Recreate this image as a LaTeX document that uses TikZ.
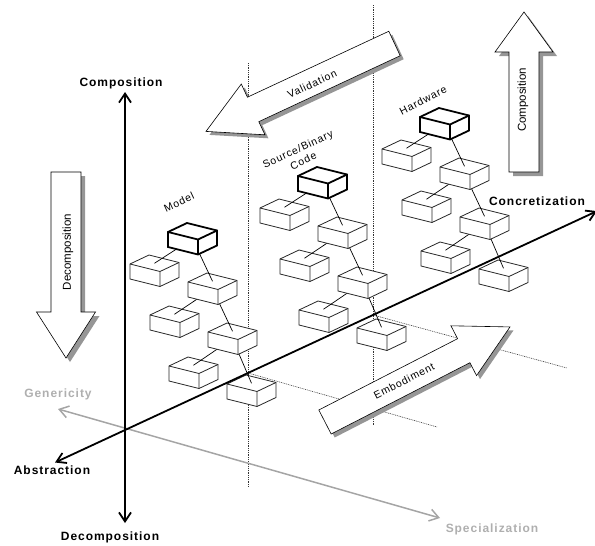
\documentclass[tikz,border=0pt]{standalone}
\usepackage{fontspec}
\setmainfont{Liberation Sans}
\newfontfamily\labfont[LetterSpace=8]{Liberation Sans}
\usetikzlibrary{arrows.meta,calc}
\definecolor{axgray}{RGB}{165,165,165}
\definecolor{txtgray}{RGB}{175,175,175}
\definecolor{shadowgray}{RGB}{150,150,150}
\begin{document}
\begin{tikzpicture}[x=1pt,y=-1pt,
  axisline/.style={line width=1.8pt, black},
  grayaxis/.style={line width=1.5pt, axgray},
  dotline/.style={line width=0.6pt, black!80, dash pattern=on 0.9pt off 0.9pt},
  conn/.style={line width=0.7pt, black},
  normcube/.style={line width=0.8pt, draw=black!85},
  boldcube/.style={line width=1.8pt, draw=black},
  axlabel/.style={font=\labfont\bfseries\fontsize{12}{14}\selectfont, inner sep=0pt},
  smalllabel/.style={font=\labfont\fontsize{10.5}{13}\selectfont, inner sep=0pt, align=center},
  arrowtext/.style={font=\fontsize{11.5}{13}\selectfont, inner sep=0pt},
  cube/.pic={
    \filldraw[fill=white, pic actions] (0,0) -- (19,-9) -- (49,-1.5) -- (49,13.5) -- (30,22.5) -- (0,15) -- cycle;
    \draw[pic actions] (0,0) -- (30,7.5) -- (49,-1.5) (30,7.5) -- (30,22.5);
  },
  barrow/.pic={
    \path[pic actions] (0,-13.5) -- (156,-13.5) -- (156,-28) -- (208,0) -- (156,28) -- (156,13.5) -- (0,13.5) -- cycle;
  }
]
\useasboundingbox (0,0) rectangle (595,546);
\clip (0,0) rectangle (595,546);

% ---- coordinates of axes and guide lines
\coordinate (top) at (125,92);
\coordinate (bot) at (125,523);
\coordinate (abs) at (55,462.5);
\coordinate (con) at (597,211.1);
\coordinate (gen) at (58,409);
\coordinate (spe) at (440,518);
\coordinate (d1a) at (248,63);
\coordinate (d1b) at (248,487);
\coordinate (d2a) at (373,5);
\coordinate (d2b) at (373,425);
\coordinate (e1a) at (248,373);
\coordinate (e1b) at (437,427);
\coordinate (e2a) at (373,315);
\coordinate (e2b) at (567,368);

% ---- dotted guide lines
\draw[dotline] (d1a) -- (d1b);
\draw[dotline] (d2a) -- (d2b);
\draw[dotline] (e1a) -- (e1b);
\draw[dotline] (e2a) -- (e2b);

% ---- grey axis
\draw[grayaxis, {Straight Barb[length=9pt,width=12pt]}-{Straight Barb[length=9pt,width=12pt]}] (gen) -- (spe);

% ---- box clusters
\foreach \p/\bx/\by in {m/168/232, s/298/176, h/420/117} {
  \coordinate (\p0) at (\bx,\by);
  \foreach \i/\dx/\dy in {1/-38/32, 2/20/50, 3/-18/83, 4/40/100, 5/1/134, 6/59/152} {
    \coordinate (\p\i) at ($(\p0)+(\dx,\dy)$);
  }
  \foreach \i in {0,...,6} {
    \coordinate (\p\i-t) at ($(\p\i)+(24.5,-0.75)$);
    \coordinate (\p\i-c) at ($(\p\i)+(24.5,6.75)$);
  }
}
\foreach \p in {m,s,h} {
  \pic[normcube] at (\p5) {cube};
  \pic[normcube] at (\p6) {cube};
  \draw[conn] (\p4-c) -- (\p5-t) (\p4-c) -- (\p6-t);
  \pic[normcube] at (\p4) {cube};
  \pic[normcube] at (\p3) {cube};
  \draw[conn] (\p2-c) -- (\p3-t) (\p2-c) -- (\p4-t);
  \pic[normcube] at (\p2) {cube};
  \pic[normcube] at (\p1) {cube};
  \draw[conn] (\p0-c) -- (\p1-t) (\p0-c) -- (\p2-t);
  \pic[boldcube] at (\p0) {cube};
}

% ---- black axes
\draw[axisline, {Straight Barb[length=9pt,width=12pt]}-{Straight Barb[length=9pt,width=12pt]}] (bot) -- (top);
\draw[axisline, {Straight Barb[length=9pt,width=11pt]}-{Straight Barb[length=9pt,width=11pt]}] (abs) -- (con);

% ---- block arrows
% Validation (points lower left)
\pic[rotate=205, fill=shadowgray] at (398,47) {barrow};
\pic[rotate=205, fill=white, draw=black, line width=0.6pt] at (394.5,43.5) {barrow};
% Embodiment (points upper right)
\pic[rotate=27.2, fill=shadowgray] at (328.5,425.5) {barrow};
\pic[rotate=27.2, fill=white, draw=black, line width=0.6pt] at (325,422) {barrow};
% Decomposition (points down)
\fill[shadowgray, shift={(4,4)}] (51,172) -- (81,172) -- (81,312) -- (95.5,312) -- (66,358) -- (36.5,312) -- (51,312) -- cycle;
\filldraw[fill=white, draw=black, line width=0.6pt] (51,172) -- (81,172) -- (81,312) -- (95.5,312) -- (66,358) -- (36.5,312) -- (51,312) -- cycle;
% Composition (points up)
\fill[shadowgray, shift={(4,4)}] (509,172) -- (539,172) -- (539,52) -- (553,52) -- (524,12) -- (495,52) -- (509,52) -- cycle;
\filldraw[fill=white, draw=black, line width=0.6pt] (509,172) -- (539,172) -- (539,52) -- (553,52) -- (524,12) -- (495,52) -- (509,52) -- cycle;

% ---- labels
\node[axlabel] (lcomp) at (121,83) {Composition};
\node[axlabel] (ldecomp) at (110,537) {Decomposition};
\node[axlabel] (labs) at (52,470) {Abstraction};
\node[axlabel] (lcon) at (537,201) {Concretization};
\node[axlabel, text=txtgray] (lgen) at (58,394) {Genericity};
\node[axlabel, text=txtgray] (lspe) at (492,529) {Specialization};

\node[smalllabel, rotate=25] (lmodel) at (179,202) {Model};
\node[smalllabel, rotate=25] (lsrc) at (300.5,155) {Source/Binary\\Code};
\node[smalllabel, rotate=27] (lhw) at (423,100) {Hardware};
\node[smalllabel, rotate=25] (lval) at (312,84) {Validation};
\node[smalllabel, rotate=27] (lemb) at (404,381) {Embodiment};
\node[arrowtext, rotate=90] (ldecarrow) at (68,252) {Decomposition};
\node[arrowtext, rotate=90] (lcomparrow) at (523,100) {Composition};
\end{tikzpicture}
\end{document}
